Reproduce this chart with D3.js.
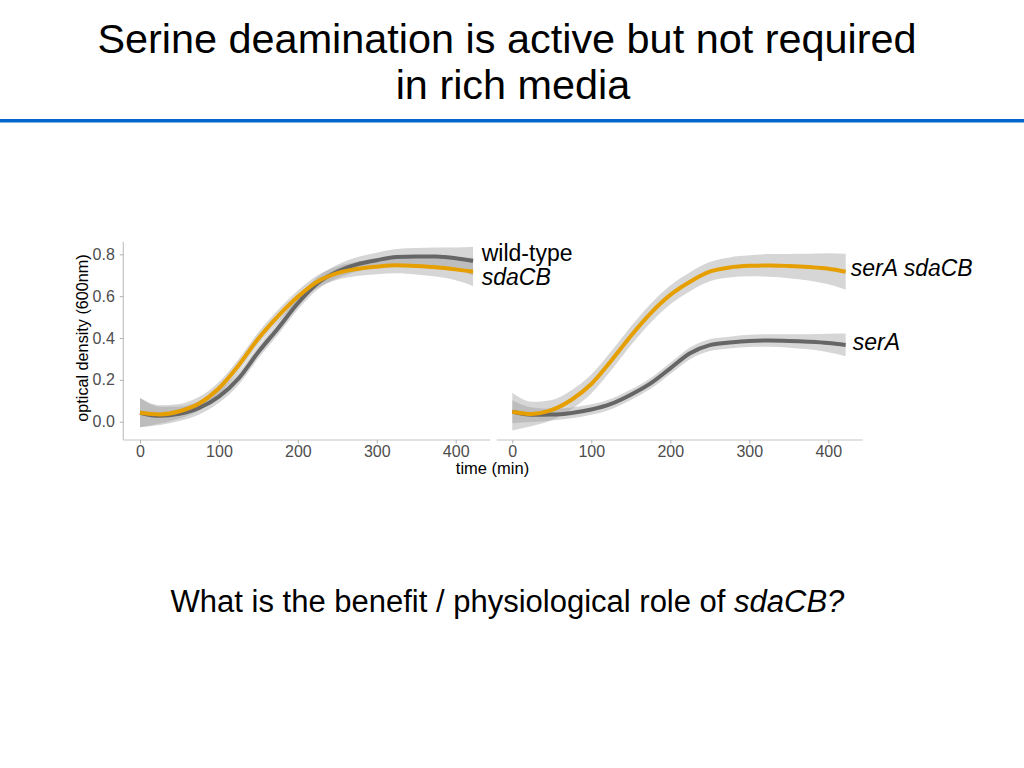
<!DOCTYPE html>
<html>
<head>
<meta charset="utf-8">
<script src="https://cdn.jsdelivr.net/npm/d3@7/dist/d3.min.js"></script>
<style>
  html, body { margin: 0; padding: 0; background: #fff; }
  svg { display: block; font-family: "Liberation Sans", Arial, sans-serif; }
</style>
</head>
<body>
<svg id="chart" width="1024" height="768"></svg>
<script>
// ---- data ----
const time = [0, 25, 50, 75, 100, 125, 150, 175, 200, 225, 250, 275, 300, 325, 350, 375, 400, 422];

// left panel
const wildType   = [0.043, 0.028, 0.038, 0.066, 0.120, 0.207, 0.333, 0.447, 0.566, 0.662, 0.718, 0.752, 0.772, 0.787, 0.790, 0.789, 0.781, 0.768];
const wildTypeCI = [0.070, 0.044, 0.035, 0.032, 0.030, 0.030, 0.030, 0.030, 0.030, 0.030, 0.032, 0.034, 0.036, 0.038, 0.040, 0.044, 0.052, 0.068];
const sdaCB      = [0.043, 0.035, 0.050, 0.087, 0.160, 0.270, 0.398, 0.505, 0.597, 0.670, 0.710, 0.730, 0.741, 0.748, 0.744, 0.738, 0.728, 0.717];
const sdaCBCI    = [0.070, 0.044, 0.035, 0.032, 0.030, 0.030, 0.030, 0.030, 0.030, 0.030, 0.032, 0.034, 0.036, 0.038, 0.040, 0.044, 0.052, 0.068];

// right panel
const serA         = [0.048, 0.033, 0.034, 0.042, 0.058, 0.085, 0.129, 0.183, 0.255, 0.327, 0.366, 0.378, 0.386, 0.388, 0.386, 0.382, 0.376, 0.367];
const serACI       = [0.055, 0.035, 0.028, 0.026, 0.025, 0.025, 0.025, 0.026, 0.027, 0.028, 0.028, 0.028, 0.029, 0.030, 0.032, 0.036, 0.044, 0.054];
const serAsdaCB    = [0.048, 0.037, 0.056, 0.105, 0.180, 0.290, 0.410, 0.518, 0.606, 0.669, 0.717, 0.737, 0.745, 0.747, 0.744, 0.739, 0.731, 0.717];
const serAsdaCBCI  = [0.090, 0.058, 0.048, 0.045, 0.045, 0.045, 0.045, 0.045, 0.045, 0.045, 0.046, 0.048, 0.050, 0.054, 0.058, 0.064, 0.074, 0.086];

const xTicks = [0, 100, 200, 300, 400];
const yTicks = [0.0, 0.2, 0.4, 0.6, 0.8];

const titleLines = ["Serine deamination is active but not required", "in rich media"];

// ---- drawing ----
const svg = d3.select("#chart");
const ORANGE = "#E69F00", GREY = "#666666";

// Title
svg.append("text").attr("x", 507).attr("y", 53).attr("text-anchor", "middle")
  .style("font-size", "41.4px").attr("fill", "#000").text(titleLines[0]);
svg.append("text").attr("x", 513).attr("y", 99).attr("text-anchor", "middle")
  .style("font-size", "41.4px").attr("fill", "#000").text(titleLines[1]);
svg.append("rect").attr("x", 0).attr("y", 119).attr("width", 1024).attr("height", 3.5).attr("fill", "#0066cc");

// Scales
const y = d3.scaleLinear().domain([0, 0.8]).range([421.7, 254.3]);
const panels = [
  { x: d3.scaleLinear().domain([0, 400]).range([140, 455.7]), ext: [123.3, 490],
    series: [
      { v: wildType, ci: wildTypeCI, color: GREY },
      { v: sdaCB, ci: sdaCBCI, color: ORANGE }
    ],
    labels: [
      { text: "wild-type", x: 433, y: 0.766, italic: false },
      { text: "sdaCB", x: 433, y: 0.654, italic: true }
    ] },
  { x: d3.scaleLinear().domain([0, 400]).range([512.3, 828.3]), ext: [496.7, 862.7],
    series: [
      { v: serA, ci: serACI, color: GREY },
      { v: serAsdaCB, ci: serAsdaCBCI, color: ORANGE }
    ],
    labels: [
      { text: "serA sdaCB", x: 428.5, y: 0.694, italic: true },
      { text: "serA", x: 431, y: 0.343, italic: true }
    ] }
];

panels.forEach((p, pi) => {
  const g = svg.append("g");
  const area = d3.area().curve(d3.curveMonotoneX)
    .x((d, i) => p.x(time[i]))
    .y0(d => y(d[0] - d[1]))
    .y1(d => y(d[0] + d[1]));
  const line = d3.line().curve(d3.curveMonotoneX)
    .x((d, i) => p.x(time[i]))
    .y(d => y(d));

  p.series.forEach(s => {
    g.append("path").datum(s.v.map((v, i) => [v, s.ci[i]]))
      .attr("d", area).attr("fill", "#999999").attr("fill-opacity", 0.4);
  });
  p.series.forEach(s => {
    g.append("path").datum(s.v).attr("d", line)
      .attr("fill", "none").attr("stroke", s.color).attr("stroke-width", 4)
      .attr("stroke-linecap", "butt");
  });

  // x axis
  g.append("line").attr("x1", p.ext[0]).attr("x2", p.ext[1]).attr("y1", 440).attr("y2", 440)
    .attr("stroke", "#c4c4c4").attr("stroke-width", 1.2);
  const xa = g.append("g").attr("transform", "translate(0,440)")
    .call(d3.axisBottom(p.x).tickValues(xTicks).tickSize(3.5).tickPadding(2).tickFormat(d3.format("d")));
  xa.select(".domain").remove();
  xa.selectAll(".tick line").attr("stroke", "#b0b0b0");
  xa.selectAll(".tick text").style("font-size", "16px").attr("fill", "#4d4d4d")
    .style("font-family", "'Liberation Sans', Arial, sans-serif");

  if (pi === 0) {
    g.append("line").attr("x1", 123.3).attr("x2", 123.3).attr("y1", 241.7).attr("y2", 440)
      .attr("stroke", "#c4c4c4").attr("stroke-width", 1.2);
    const ya = g.append("g").attr("transform", "translate(123.3,0)")
      .call(d3.axisLeft(y).tickValues(yTicks).tickSize(3.5).tickPadding(5).tickFormat(d3.format(".1f")));
    ya.select(".domain").remove();
    ya.selectAll(".tick line").attr("stroke", "#b0b0b0");
    ya.selectAll(".tick text").style("font-size", "16px").attr("fill", "#4d4d4d")
      .style("font-family", "'Liberation Sans', Arial, sans-serif");
  }

  p.labels.forEach(l => {
    g.append("text").attr("x", p.x(l.x)).attr("y", y(l.y))
      .style("font-size", "23px").attr("fill", "#000")
      .attr("font-style", l.italic ? "italic" : "normal").text(l.text);
  });
});

// axis titles
svg.append("text").attr("x", 492.5).attr("y", 474).attr("text-anchor", "middle")
  .style("font-size", "16.5px").attr("fill", "#000").text("time (min)");
svg.append("text").attr("transform", "translate(88,338) rotate(-90)").attr("text-anchor", "middle")
  .style("font-size", "16.2px").attr("fill", "#000").text("optical density (600nm)");

// bottom question
const q = svg.append("text").attr("x", 507.5).attr("y", 612).attr("text-anchor", "middle")
  .style("font-size", "31px").attr("fill", "#000");
q.append("tspan").text("What is the benefit / physiological role of ");
q.append("tspan").attr("font-style", "italic").text("sdaCB?");
</script>
</body>
</html>
